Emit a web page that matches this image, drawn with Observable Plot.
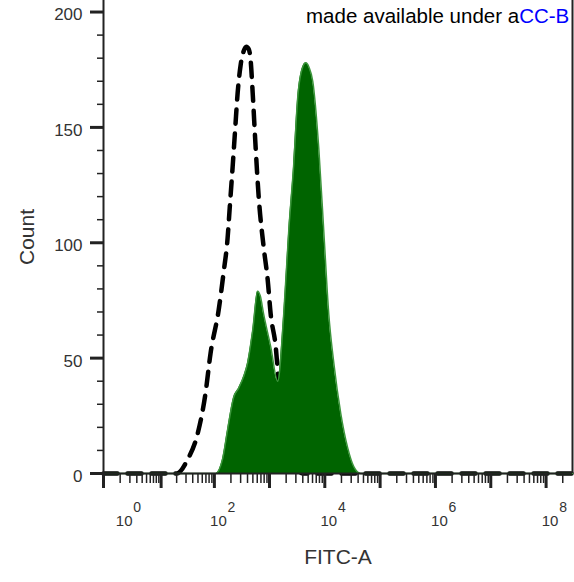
<!DOCTYPE html>
<html><head><meta charset="utf-8">
<script src="https://cdn.jsdelivr.net/npm/d3@7"></script>
<script src="https://cdn.jsdelivr.net/npm/@observablehq/plot@0.6"></script>
<style>
html,body{margin:0;padding:0;background:#fff;overflow:hidden;}
#wrap{position:relative;width:574px;height:582px;overflow:hidden;}
#note{position:absolute;left:306px;top:4px;font-family:"Liberation Sans",Arial,sans-serif;font-size:20.5px;line-height:24px;white-space:nowrap;color:#000;}
#note span{color:#0000ff;}
</style></head><body>
<div id="wrap"><div id="chart"></div><div id="note">made available under a<span>CC-B</span></div></div>
<script>
// Control histogram (dashed)
const controlValue = [0, 20, 32, 49, 69, 85, 120, 147, 174, 190, 215, 240, 265, 300, 340, 380, 420, 456, 496, 562, 637, 785, 927, 1051, 1295, 1467, 1800, 2300, 3000, 4000, 1e5, 1e8, 3e8];
const controlCount = [0, 0, 6, 17, 35, 52, 71, 87, 102, 115, 133, 150, 165, 177, 183, 185, 184, 179, 165, 141, 120, 98, 84, 69, 55, 40, 25, 10, 3, 0, 0, 0, 0];
// Sample histogram (filled green)
const sampleValue = [0, 105, 140, 174, 224, 276, 340, 402, 496, 611, 680, 785, 1051, 1407, 1807, 2226, 2742, 3240, 3672, 4525, 5200, 6057, 7777, 9582, 11800, 14530, 19450, 26000, 33400, 44700, 1e5, 1e8, 3e8];
const sampleCount = [0, 0, 6, 19, 33, 37, 42, 48, 62, 79, 77, 69, 55, 40, 69, 105, 134, 163, 173, 178, 176, 170, 141, 105, 69, 48, 26, 11, 3, 0, 0, 0, 0];
// Axes
const yMajorTicks = [0, 50, 100, 150, 200];
const yMinorTicks = [10, 20, 30, 40, 60, 70, 80, 90, 110, 120, 130, 140, 160, 170, 180, 190];
const xLabelTicks = [1, 1e2, 1e4, 1e6, 1e8];
const xMajorTicks = [0, 1e1, 1e2, 1e3, 1e4, 1e5, 1e6, 1e7, 1e8];
const xMinorTicks = [1, 2, 3, 4, 5, 6, 7, 8, 9, 20, 30, 40, 50, 60, 70, 80, 90, 200, 300, 400, 500, 600, 700, 800, 900, 2e3, 3e3, 4e3, 5e3, 6e3, 7e3, 8e3, 9e3, 2e4, 3e4, 4e4, 5e4, 6e4, 7e4, 8e4, 9e4, 2e5, 3e5, 4e5, 5e5, 6e5, 7e5, 8e5, 9e5, 2e6, 3e6, 4e6, 5e6, 6e6, 7e6, 8e6, 9e6, 2e7, 3e7, 4e7, 5e7, 6e7, 7e7, 8e7, 9e7, 2e8];
const xDomain = [0, 3e8];
const yDomain = [0, 205];
const xTitle = "FITC-A";
const yTitle = "Count";

const control = controlValue.map((v, i) => ({v, c: controlCount[i]}));
const sample = sampleValue.map((v, i) => ({v, c: sampleCount[i]}));

const chart = Plot.plot({
  width: 574, height: 582,
  marginLeft: 103, marginRight: 2, marginTop: 0, marginBottom: 109,
  style: {fontFamily: "'Liberation Sans', Arial, sans-serif", color: "#222", background: "white", overflow: "visible"},
  x: {type: "symlog", constant: 1, domain: xDomain},
  y: {domain: yDomain},
  marks: [
    Plot.line(control, {x: "v", y: "c", stroke: "#000", strokeWidth: 4.5, strokeDasharray: "14,10", curve: "monotone-x"}),
    Plot.areaY(sample, {x: "v", y: "c", fill: "#006400", curve: "monotone-x"}),
    Plot.line(sample, {x: "v", y: "c", stroke: "#3c963c", strokeWidth: 1.5, curve: "monotone-x"}),
    Plot.axisY(yMinorTicks, {tickSize: 6, strokeWidth: 1.5, fill: "none", label: null}),
    Plot.axisY(yMajorTicks, {tickSize: 13, strokeWidth: 3, fill: "none", label: null}),
    Plot.axisY(yMajorTicks, {tickSize: 0, tickPadding: 21, dy: 3, fontSize: 17, fill: "#333", label: null}),
    Plot.axisX(xMinorTicks, {tickSize: 10, strokeWidth: 1.5, fill: "none", label: null}),
    Plot.axisX(xMajorTicks, {tickSize: 15, strokeWidth: 3, fill: "none", label: null}),
    Plot.axisX(xLabelTicks, {tickSize: 0, tickPadding: 42, tickFormat: () => "10", fontSize: 15, dx: 4, fill: "#333", label: null}),
    Plot.axisX(xLabelTicks, {tickSize: 0, tickPadding: 29, tickFormat: d => String(Math.round(Math.log10(d))), fontSize: 14, dx: 17, fill: "#333", label: null}),
    Plot.ruleX([xDomain[0]], {strokeWidth: 2}),
    Plot.ruleX([xDomain[1]], {strokeWidth: 2}),
    Plot.ruleY([0], {strokeWidth: 2}),
    Plot.text([yTitle], {frameAnchor: "left", dx: -76, rotate: -90, textAnchor: "middle", lineAnchor: "middle", fontSize: 21, fill: "#333"}),
    Plot.text([xTitle], {frameAnchor: "bottom", dy: 84, textAnchor: "middle", lineAnchor: "middle", fontSize: 21, fill: "#333"})
  ]
});
document.getElementById("chart").append(chart);
</script>
</body></html>
